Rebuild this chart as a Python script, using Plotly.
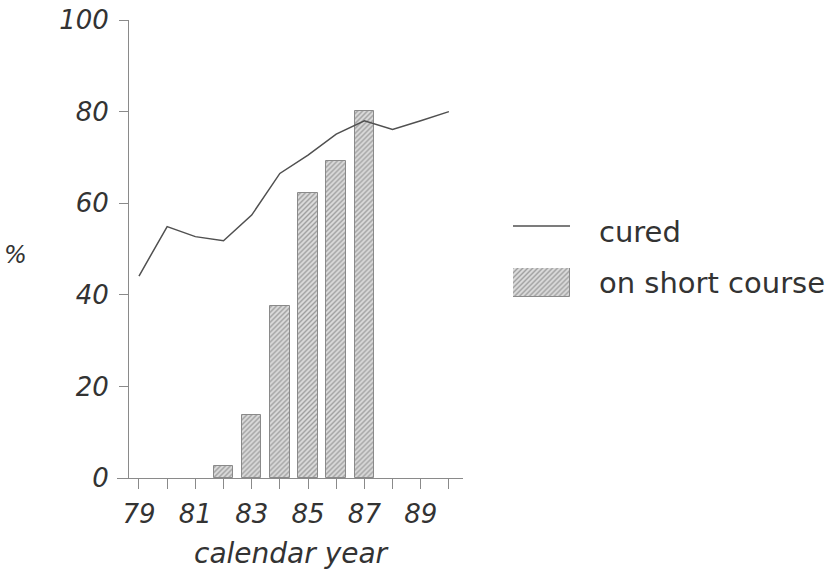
import plotly.graph_objects as go

years_line = [79, 80, 81, 82, 83, 84, 85, 86, 87, 88, 89, 90]
cured = [44.1, 54.9, 52.7, 51.8, 57.4, 66.5, 70.5, 75.1, 78.0, 76.1, 78.0, 80.0]

years_bar = [82, 83, 84, 85, 86, 87]
short_course = [2.7, 13.7, 37.5, 62.3, 69.2, 80.2]

x_tickvals = list(range(79, 91))
x_ticktext = [str(v) if v % 2 == 1 else "" for v in x_tickvals]
y_tickvals = [0, 20, 40, 60, 80, 100]

W, H = 833, 570
def px(x):
    return x / W
def py(y):
    return (H - y) / H

FONT = "DejaVu Sans"
TXT = "#333333"
AX = "#8a8a8a"

pattern = dict(shape="/", fgcolor="#5e5e5e", bgcolor="#dcdcdc", size=3.5, solidity=0.4)

fig = go.Figure()
fig.add_trace(go.Bar(
    x=years_bar, y=short_course, width=0.69,
    marker=dict(color="#dcdcdc", pattern=pattern, line=dict(color="#8a8a8a", width=1)),
    showlegend=False, xaxis="x", yaxis="y",
))
fig.add_trace(go.Scatter(
    x=years_line, y=cured, mode="lines",
    line=dict(color="#505050", width=1.5),
    showlegend=False, xaxis="x", yaxis="y",
))
# legend swatch (uses the same pattern)
fig.add_trace(go.Bar(
    x=[0], y=[1], width=1,
    marker=dict(color="#dcdcdc", pattern=pattern, line=dict(color="#8a8a8a", width=1)),
    showlegend=False, xaxis="x2", yaxis="y2", hoverinfo="skip",
))

fig.update_layout(
    width=W, height=H,
    margin=dict(l=0, r=0, t=0, b=0),
    paper_bgcolor="white", plot_bgcolor="white",
    xaxis=dict(
        domain=[px(117), px(463)], range=[78.22, 90.5],
        tickvals=x_tickvals, ticktext=x_ticktext,
        ticks="outside", ticklen=10, tickcolor=AX, tickwidth=1,
        showline=True, linecolor=AX, linewidth=1,
        showgrid=False, zeroline=False,
        tickfont=dict(family=FONT, size=26, color=TXT, style="italic"),
        ticklabelstandoff=3, automargin=False,
    ),
    yaxis=dict(
        domain=[py(478), py(20)], range=[0, 100],
        anchor="free", position=px(128),
        tickvals=y_tickvals,
        ticks="outside", ticklen=9, tickcolor=AX, tickwidth=1,
        showline=True, linecolor=AX, linewidth=1,
        showgrid=False, zeroline=False,
        tickfont=dict(family=FONT, size=26, color=TXT, style="italic"),
        ticklabelstandoff=5, automargin=False,
    ),
    xaxis2=dict(domain=[px(513), px(570)], range=[-0.5, 0.5], visible=False, anchor="y2", fixedrange=True),
    yaxis2=dict(domain=[py(297), py(268)], range=[0, 1], visible=False, anchor="x2", fixedrange=True),
    bargap=0,
)

fig.add_shape(type="line", xref="paper", yref="paper",
              x0=px(513), x1=px(570), y0=py(226), y1=py(226),
              line=dict(color="#505050", width=1.5))

ann_font = dict(family=FONT, size=29, color=TXT)
fig.add_annotation(text="cured", xref="paper", yref="paper", x=px(597), y=py(232),
                   xanchor="left", yanchor="middle", showarrow=False, font=ann_font)
fig.add_annotation(text="on short course", xref="paper", yref="paper", x=px(597), y=py(283),
                   xanchor="left", yanchor="middle", showarrow=False, font=ann_font)
fig.add_annotation(text="%", xref="paper", yref="paper", x=px(16), y=py(255),
                   xanchor="center", yanchor="middle", showarrow=False,
                   font=dict(family=FONT, size=24, color=TXT, style="italic"))
fig.add_annotation(text="calendar year", xref="paper", yref="paper", x=px(291), y=py(553),
                   xanchor="center", yanchor="middle", showarrow=False,
                   font=dict(family=FONT, size=28, color=TXT, style="italic"))

fig.write_html("out.html")
